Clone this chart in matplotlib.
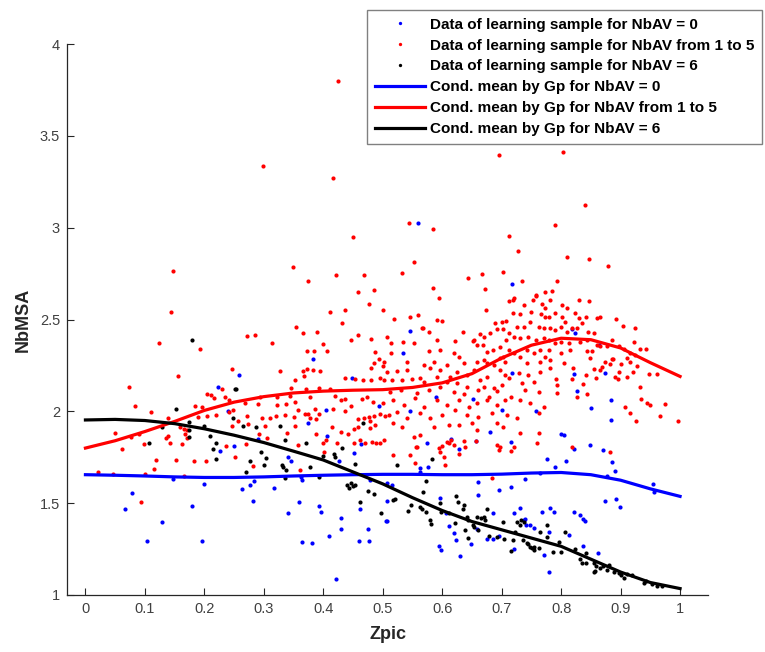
import numpy as np
import matplotlib.pyplot as plt
from matplotlib.ticker import FormatStrFormatter

plt.rcParams['font.family'] = ['Liberation Sans', 'DejaVu Sans']

# Data of learning sample, NbAV = 0
blue_x = [0.560, 0.717, 0.223, 0.226, 0.147, 0.199, 0.078, 0.066, 0.180, 0.128,
          0.103, 0.196, 0.383, 0.259, 0.449, 0.494, 0.404, 0.374, 0.407, 0.290,
          0.464, 0.250, 0.340, 0.345, 0.362, 0.365, 0.426, 0.452, 0.263, 0.276,
          0.283, 0.317, 0.281, 0.359, 0.340, 0.392, 0.397, 0.364, 0.381, 0.410,
          0.429, 0.430, 0.421, 0.461, 0.479, 0.476, 0.477, 0.460, 0.506, 0.545,
          0.534, 0.717, 0.589, 0.652, 0.546, 0.701, 0.757, 0.681, 0.715, 0.656,
          0.615, 0.574, 0.628, 0.507, 0.516, 0.562, 0.562, 0.576, 0.661, 0.696,
          0.716, 0.740, 0.765, 0.507, 0.507, 0.597, 0.607, 0.611, 0.619, 0.624,
          0.594, 0.598, 0.630, 0.648, 0.661, 0.659, 0.675, 0.686, 0.685, 0.695,
          0.720, 0.720, 0.730, 0.740, 0.741, 0.748, 0.755, 0.768, 0.771, 0.737,
          0.821, 0.848, 0.870, 0.886, 0.890, 0.809, 0.789, 0.776, 0.877, 0.955,
          0.956, 0.873, 0.893, 0.899, 0.782, 0.788, 0.821, 0.831, 0.837, 0.840,
          0.779, 0.814, 0.836, 0.862, 0.779, 0.818, 0.824, 0.863, 0.822, 0.874,
          0.826, 0.884, 0.850, 0.884, 0.799, 0.804, 0.240]
blue_y = [3.027, 2.693, 2.131, 1.782, 1.633, 1.603, 1.557, 1.466, 1.486, 1.396,
          1.292, 1.294, 2.285, 2.199, 2.183, 2.027, 2.009, 1.938, 1.867, 1.848,
          1.820, 1.811, 1.750, 1.731, 1.644, 1.625, 1.729, 1.775, 1.579, 1.600,
          1.619, 1.582, 1.513, 1.506, 1.445, 1.484, 1.453, 1.289, 1.281, 1.321,
          1.421, 1.358, 1.085, 1.468, 1.626, 1.358, 1.296, 1.296, 1.405, 2.437,
          2.319, 2.207, 2.080, 2.067, 2.002, 2.007, 2.002, 1.889, 1.835, 1.840,
          1.851, 1.829, 1.793, 1.608, 1.599, 1.690, 1.671, 1.695, 1.617, 1.572,
          1.590, 1.630, 1.663, 1.513, 1.404, 1.526, 1.448, 1.375, 1.339, 1.297,
          1.265, 1.246, 1.212, 1.276, 1.544, 1.357, 1.303, 1.448, 1.303, 1.323,
          1.448, 1.249, 1.475, 1.412, 1.381, 1.381, 1.363, 1.453, 1.218, 1.408,
          1.793, 1.818, 1.788, 1.724, 1.677, 1.728, 1.695, 1.740, 1.648, 1.603,
          1.559, 1.513, 1.521, 1.479, 1.472, 1.450, 1.450, 1.434, 1.415, 1.401,
          1.343, 1.325, 1.267, 1.227, 1.127, 2.446, 2.428, 2.361, 2.201, 2.210,
          2.110, 2.061, 2.018, 1.953, 1.876, 1.873, 2.000]

# Data of learning sample, NbAV from 1 to 5
red_x = [0.424, 0.299, 0.417, 0.450, 0.148, 0.349, 0.374, 0.422, 0.469, 0.458,
         0.485, 0.477, 0.144, 0.412, 0.437, 0.432, 0.354,
         0.696, 0.803, 0.840, 0.544, 0.585, 0.790, 0.712, 0.727, 0.553, 0.810,
         0.847, 0.878, 0.532, 0.643, 0.667, 0.702, 0.793, 0.735, 0.585, 0.595,
         0.672, 0.712, 0.720, 0.757, 0.773, 0.784, 0.830, 0.847, 0.501, 0.519,
         0.545, 0.559, 0.567, 0.592, 0.600, 0.673, 0.892, 0.904, 0.925,
         0.123, 0.193, 0.155, 0.073, 0.204, 0.211, 0.216, 0.230, 0.234, 0.084,
         0.111, 0.184, 0.196, 0.139, 0.189, 0.205, 0.220, 0.159, 0.165, 0.168,
         0.171, 0.049, 0.077, 0.090, 0.135, 0.139, 0.170, 0.163, 0.098, 0.061,
         0.236, 0.142, 0.118, 0.152, 0.182, 0.202, 0.116, 0.021, 0.046, 0.100,
         0.166, 0.093,
         0.272, 0.286, 0.366, 0.389, 0.458, 0.446, 0.481, 0.314, 0.400, 0.373,
         0.385, 0.407, 0.487, 0.494, 0.486, 0.500, 0.480, 0.502, 0.246, 0.366,
         0.373, 0.383, 0.394, 0.328, 0.353, 0.368, 0.436, 0.453, 0.467, 0.480,
         0.495, 0.502, 0.346, 0.371, 0.392, 0.411, 0.294, 0.322, 0.344, 0.378,
         0.241, 0.268, 0.290, 0.323, 0.337, 0.353, 0.420, 0.429, 0.437, 0.465,
         0.474, 0.484, 0.500, 0.386, 0.369, 0.392, 0.416, 0.437, 0.447, 0.248,
         0.272, 0.297, 0.311, 0.321, 0.335, 0.350, 0.357, 0.375, 0.378, 0.388,
         0.477, 0.486, 0.496, 0.503, 0.469, 0.479, 0.458, 0.241, 0.256, 0.246,
         0.274, 0.302, 0.292, 0.306, 0.339, 0.353, 0.387, 0.415, 0.430, 0.442,
         0.452, 0.458, 0.479, 0.487, 0.357, 0.400, 0.423, 0.462, 0.482, 0.496,
         0.502,
         0.270, 0.252, 0.281, 0.361, 0.401, 0.405, 0.451, 0.471, 0.489,
         0.757, 0.767, 0.773, 0.719, 0.738, 0.752, 0.719, 0.730, 0.749, 0.766,
         0.773, 0.689, 0.700, 0.707, 0.726, 0.737, 0.748, 0.762, 0.771, 0.507,
         0.534, 0.566, 0.578, 0.592, 0.622, 0.635, 0.652, 0.664, 0.670, 0.681,
         0.692, 0.703, 0.712, 0.708, 0.720, 0.731, 0.745, 0.757, 0.771, 0.514,
         0.514, 0.552, 0.577, 0.597,
         0.619, 0.628, 0.653, 0.659, 0.669, 0.675, 0.686, 0.698, 0.703, 0.712,
         0.720, 0.731, 0.743, 0.754, 0.765, 0.773,
         0.541, 0.569, 0.586, 0.608, 0.636, 0.659, 0.670, 0.675, 0.687, 0.698,
         0.706, 0.743, 0.765,
         0.507, 0.524, 0.541, 0.563, 0.580, 0.597, 0.613, 0.625, 0.642, 0.653,
         0.664, 0.675, 0.698, 0.706, 0.729, 0.745, 0.765,
         0.516, 0.532, 0.549, 0.569, 0.591, 0.608, 0.625, 0.642, 0.670, 0.687,
         0.701, 0.712, 0.734, 0.754,
         0.513, 0.530, 0.558, 0.577, 0.597, 0.619, 0.636, 0.661, 0.678, 0.692,
         0.715, 0.740, 0.762,
         0.518, 0.535, 0.555, 0.569, 0.591, 0.608, 0.628, 0.645, 0.659, 0.675,
         0.692, 0.706, 0.731, 0.748, 0.771,
         0.510, 0.524, 0.541, 0.563, 0.580, 0.600, 0.622, 0.642, 0.661, 0.684,
         0.709, 0.726, 0.762,
         0.518, 0.532, 0.552, 0.563, 0.586, 0.611, 0.628, 0.650, 0.659, 0.692,
         0.703, 0.731, 0.762, 0.759,
         0.558, 0.594, 0.611, 0.639, 0.698, 0.720,
         0.517, 0.545, 0.556, 0.554, 0.596, 0.600, 0.608, 0.614, 0.603, 0.605,
         0.619, 0.629, 0.637, 0.656, 0.692, 0.695, 0.716, 0.683,
         0.818, 0.882,
         0.781, 0.802, 0.810,
         0.779, 0.789, 0.802, 0.807, 0.824, 0.830, 0.841, 0.835, 0.860, 0.866,
         0.846, 0.855,
         0.782, 0.790, 0.799, 0.810, 0.818, 0.827,
         0.779, 0.790, 0.799, 0.813, 0.832, 0.844, 0.860, 0.877, 0.886, 0.897,
         0.923,
         0.779, 0.799, 0.815, 0.844, 0.852, 0.866, 0.905, 0.916, 0.933, 0.942,
         0.925, 0.886,
         0.782, 0.805, 0.848, 0.874, 0.888, 0.901, 0.910, 0.916,
         0.781, 0.820, 0.855, 0.869, 0.866, 0.882, 0.897, 0.911, 0.921, 0.928,
         0.947, 0.961,
         0.818, 0.842, 0.859, 0.891, 0.895, 0.932, 0.792, 0.793, 0.793,
         0.837, 0.827, 0.844, 0.934, 0.944, 0.949, 0.975, 0.907, 0.915, 0.926,
         0.966, 0.997]
red_y = [3.800, 3.335, 3.268, 2.947, 2.762, 2.784, 2.708, 2.742, 2.742, 2.651,
         2.660, 2.584, 2.539, 2.542, 2.553, 2.482, 2.460,
         3.393, 3.410, 3.125, 3.023, 2.992, 3.014, 2.956, 2.871, 2.814, 2.838,
         2.831, 2.793, 2.751, 2.724, 2.747, 2.760, 2.711, 2.711, 2.671, 2.615,
         2.664, 2.603, 2.619, 2.629, 2.648, 2.655, 2.606, 2.599, 2.553, 2.502,
         2.512, 2.526, 2.455, 2.497, 2.493, 2.551, 2.501, 2.464, 2.455,
         2.370, 2.337, 2.192, 2.131, 2.096, 2.090, 2.071, 2.120, 2.080, 2.030,
         1.996, 2.027, 2.023, 1.965, 1.970, 1.976, 1.981, 1.915, 1.902, 1.876,
         1.898, 1.884, 1.860, 1.876, 1.856, 1.866, 1.856, 1.822, 1.820, 1.795,
         1.811, 1.829, 1.735, 1.735, 1.728, 1.731, 1.684, 1.670, 1.659, 1.659,
         1.648, 1.505,
         2.410, 2.414, 2.428, 2.430, 2.415, 2.388, 2.395, 2.370, 2.366, 2.328,
         2.327, 2.328, 2.323, 2.286, 2.261, 2.247, 2.236, 2.267, 2.230, 2.219,
         2.229, 2.223, 2.221, 2.219, 2.170, 2.192, 2.183, 2.174, 2.172, 2.170,
         2.179, 2.169, 2.125, 2.121, 2.125, 2.123, 2.080, 2.076, 2.083, 2.076,
         2.061, 2.043, 2.038, 2.033, 2.038, 2.051, 2.085, 2.060, 2.067, 2.067,
         2.077, 2.049, 2.044, 2.014, 1.987, 1.987, 2.013, 2.002, 2.027, 2.005,
         1.976, 1.965, 1.964, 1.976, 1.978, 1.969, 2.007, 1.984, 1.962, 1.958,
         1.970, 1.976, 1.985, 1.974, 1.965, 1.946, 1.960, 1.998, 1.949, 1.920,
         1.931, 1.922, 1.875, 1.856, 1.882, 1.918, 1.878, 1.915, 1.886, 1.876,
         1.902, 1.913, 1.907, 1.925, 1.818, 1.827, 1.827, 1.845, 1.835, 1.826,
         1.844,
         1.820, 1.750, 1.702, 1.679, 1.777, 1.844, 1.829, 1.829, 1.827,
         2.631, 2.584, 2.561, 2.606, 2.577, 2.606, 2.533, 2.530, 2.542, 2.530,
         2.515, 2.479, 2.484, 2.492, 2.461, 2.461, 2.488, 2.461, 2.452, 2.404,
         2.379, 2.455, 2.433, 2.388, 2.384, 2.433, 2.384, 2.419, 2.406, 2.428,
         2.446, 2.446, 2.428, 2.388, 2.406, 2.397, 2.406, 2.388, 2.397, 2.370,
         2.316, 2.370, 2.330, 2.334,
         2.316, 2.297, 2.388, 2.361, 2.361, 2.325, 2.334, 2.352, 2.297, 2.334,
         2.316, 2.297, 2.334, 2.316, 2.334, 2.297,
         2.270, 2.252, 2.270, 2.252, 2.261, 2.270, 2.279, 2.261, 2.252, 2.288,
         2.270, 2.261, 2.270,
         2.216, 2.221, 2.225, 2.180, 2.234, 2.225, 2.189, 2.216, 2.198, 2.225,
         2.170, 2.185, 2.225, 2.198, 2.207, 2.198, 2.216,
         2.170, 2.170, 2.174, 2.161, 2.185, 2.161, 2.152, 2.134, 2.134, 2.125,
         2.143, 2.180, 2.152, 2.161,
         2.107, 2.116, 2.098, 2.116, 2.134, 2.107, 2.094, 2.116, 2.080, 2.112,
         2.080, 2.116, 2.107,
         2.061, 2.034, 2.070, 2.025, 2.061, 2.034, 2.061, 2.025, 2.043, 2.061,
         2.034, 2.061, 2.061, 2.043, 2.025,
         1.980, 1.998, 1.962, 1.989, 1.962, 1.980, 2.007, 1.980, 1.971, 1.989,
         1.980, 1.962, 1.989,
         1.935, 1.916, 1.862, 1.871, 1.916, 1.925, 1.925, 1.935, 1.898, 1.935,
         1.916, 1.880, 1.880, 1.826,
         1.807, 1.799, 1.826, 1.807, 1.807, 1.807,
         1.762, 1.764, 1.807, 1.720, 1.780, 1.811, 1.834, 1.844, 1.750, 1.708,
         1.817, 1.768, 1.840, 1.838, 1.818, 1.789, 1.786, 1.639,
         1.807, 1.780,
         2.606, 2.579, 2.561,
         2.515, 2.533, 2.515, 2.488, 2.533, 2.506, 2.515, 2.479, 2.506, 2.515,
         2.433, 2.428,
         2.452, 2.443, 2.461, 2.433, 2.452, 2.452,
         2.388, 2.370, 2.379, 2.370, 2.379, 2.388, 2.361, 2.355, 2.388, 2.355,
         2.379,
         2.334, 2.316, 2.334, 2.330, 2.330, 2.355, 2.337, 2.319, 2.337, 2.337,
         2.306, 2.283,
         2.279, 2.264, 2.288, 2.270, 2.283, 2.257, 2.288, 2.270,
         2.237, 2.234, 2.230, 2.239, 2.225, 2.257, 2.216, 2.189, 2.216, 2.247,
         2.203, 2.203,
         2.174, 2.198, 2.180, 2.185, 2.174, 2.131, 2.174, 2.143, 2.101,
         2.149, 2.080, 2.094, 2.065, 2.047, 2.033, 2.040, 2.022, 1.992, 1.947,
         1.974, 1.947]

# Data of learning sample, NbAV = 6
black_x = [0.179, 0.152, 0.174, 0.129, 0.175, 0.200, 0.210, 0.174, 0.220, 0.107,
           0.214, 0.219, 0.251,
           0.253, 0.249, 0.265, 0.287, 0.327, 0.467, 0.336, 0.371, 0.431,
           0.296, 0.304, 0.300, 0.276, 0.270, 0.331, 0.333, 0.338, 0.377, 0.336,
           0.393, 0.399, 0.418, 0.420, 0.453, 0.440, 0.443, 0.447, 0.450, 0.454,
           0.462, 0.475, 0.485, 0.497,
           0.524, 0.582,
           0.517, 0.521, 0.572, 0.568, 0.542, 0.548, 0.563, 0.566, 0.572, 0.580,
           0.581, 0.597, 0.598,
           0.624, 0.626, 0.636, 0.635, 0.611, 0.621, 0.642, 0.644, 0.639, 0.644,
           0.651, 0.654, 0.659, 0.665, 0.670, 0.676, 0.672, 0.660,
           0.678, 0.692, 0.703, 0.704, 0.719, 0.722, 0.725, 0.730, 0.733, 0.738,
           0.736, 0.743, 0.747, 0.751, 0.754, 0.745, 0.762, 0.764, 0.754, 0.716,
           0.807, 0.777, 0.777, 0.796, 0.799, 0.786, 0.824, 0.831, 0.835, 0.842,
           0.841, 0.855, 0.859, 0.866, 0.871, 0.855, 0.857, 0.877, 0.881, 0.889,
           0.897, 0.901, 0.906, 0.911, 0.920, 0.939, 0.943, 0.953, 0.961, 0.970]
black_y = [2.388, 2.011, 1.942, 1.915, 1.900, 1.920, 1.866, 1.858, 1.826, 1.829,
           1.796, 1.739, 2.123,
           2.120, 1.962, 1.922, 1.913, 1.918, 1.936, 1.842, 1.827, 1.802,
           1.777, 1.744, 1.708, 1.728, 1.668, 1.709, 1.698, 1.680, 1.697, 1.635,
           1.644, 1.758, 1.766, 1.750, 1.713, 1.599, 1.581, 1.608, 1.593, 1.599,
           1.505, 1.568, 1.550, 1.448,
           1.708, 1.740,
           1.517, 1.523, 1.622, 1.562, 1.459, 1.490, 1.481, 1.467, 1.453, 1.408,
           1.386, 1.499, 1.453,
           1.539, 1.508, 1.490, 1.467, 1.445, 1.394, 1.423, 1.408, 1.354, 1.312,
           1.381, 1.372, 1.426, 1.417, 1.426, 1.468, 1.408, 1.354,
           1.321, 1.317, 1.399, 1.303, 1.299, 1.345, 1.399, 1.381, 1.408, 1.399,
           1.299, 1.281, 1.263, 1.254, 1.260, 1.278, 1.254, 1.345, 1.245, 1.240,
           1.345, 1.381, 1.317, 1.290, 1.234, 1.234, 1.249, 1.194, 1.176, 1.227,
           1.172, 1.176, 1.158, 1.145, 1.158, 1.127, 1.132, 1.136, 1.161, 1.127,
           1.122, 1.109, 1.094, 1.114, 1.109, 1.064, 1.078, 1.060, 1.051, 1.049]

# Conditional means by Gp
zpic_grid = [0.00, 0.05, 0.10, 0.15, 0.20, 0.25, 0.30, 0.35, 0.40, 0.45, 0.50,
             0.55, 0.60, 0.65, 0.70, 0.75, 0.80, 0.85, 0.90, 0.95, 1.00]
mean_av0 = [1.655, 1.652, 1.648, 1.643, 1.640, 1.640, 1.643, 1.648, 1.652, 1.655,
            1.657, 1.657, 1.655, 1.655, 1.658, 1.664, 1.667, 1.655, 1.625, 1.578,
            1.537]
mean_av15 = [1.800, 1.840, 1.890, 1.945, 2.005, 2.050, 2.080, 2.100, 2.110, 2.115,
             2.118, 2.130, 2.155, 2.205, 2.290, 2.360, 2.398, 2.390, 2.345, 2.265,
             2.190]
mean_av6 = [1.953, 1.956, 1.950, 1.933, 1.905, 1.870, 1.830, 1.783, 1.735, 1.670,
            1.605, 1.530, 1.460, 1.400, 1.355, 1.310, 1.265, 1.195, 1.125, 1.068,
            1.035]

fig = plt.figure(figsize=(7.65, 6.52), dpi=100)
ax = fig.add_axes([67 / 765, 57 / 652, 641 / 765, 551 / 652])

h1, = ax.plot(blue_x, blue_y, 'o', color='blue', ms=3.0, mew=0)
h2, = ax.plot(red_x, red_y, 'o', color='red', ms=3.0, mew=0)
h3, = ax.plot(black_x, black_y, 'o', color='black', ms=3.0, mew=0)
h4, = ax.plot(zpic_grid, mean_av0, color='blue', lw=2.3)
h5, = ax.plot(zpic_grid, mean_av15, color='red', lw=2.3)
h6, = ax.plot(zpic_grid, mean_av6, color='black', lw=2.3)

ax.set_xlim(-0.031, 1.047)
ax.set_ylim(1, 4)
ax.set_xticks(np.arange(0, 1.01, 0.1))
ax.set_yticks(np.arange(1, 4.01, 0.5))
ax.xaxis.set_major_formatter(FormatStrFormatter('%g'))
ax.yaxis.set_major_formatter(FormatStrFormatter('%g'))
ax.tick_params(direction='in', length=5, width=0.8, color='#262626',
               labelcolor='#404040', labelsize=10.5)
ax.tick_params(axis='x', pad=5)
ax.tick_params(axis='y', pad=5)
ax.spines['top'].set_visible(False)
ax.spines['right'].set_visible(False)
for s in ['left', 'bottom']:
    ax.spines[s].set_color('#262626')
    ax.spines[s].set_linewidth(0.9)

ax.set_xlabel('Zpic', fontsize=13, fontweight='bold', color='#262626', labelpad=7)
ax.set_ylabel('NbMSA', fontsize=13, fontweight='bold', color='#262626', labelpad=6)

labels = ['Data of learning sample for NbAV = 0',
          'Data of learning sample for NbAV from 1 to 5',
          'Data of learning sample for NbAV = 6',
          'Cond. mean by Gp for NbAV = 0',
          'Cond. mean by Gp for NbAV from 1 to 5',
          'Cond. mean by Gp for NbAV = 6']
leg = fig.legend([h1, h2, h3, h4, h5, h6], labels, loc='upper left',
                 bbox_to_anchor=(367 / 765, 1 - 10 / 652), borderaxespad=0,
                 prop={'size': 11, 'weight': 'bold'}, handlelength=3.3,
                 handletextpad=0.33, labelspacing=0.45, borderpad=0.5,
                 fancybox=False, framealpha=1, markerscale=0.8)
leg.get_frame().set_edgecolor('#808080')
leg.get_frame().set_linewidth(1.0)

plt.savefig('out.png', dpi=100)
